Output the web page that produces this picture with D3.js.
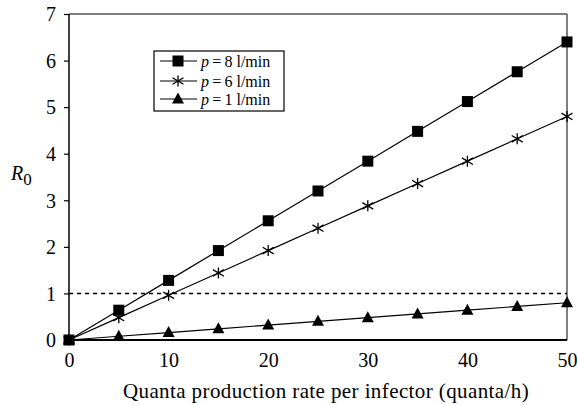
<!DOCTYPE html>
<html><head><meta charset="utf-8">
<script src="https://cdn.jsdelivr.net/npm/d3@7"></script>
<style>body{margin:0;background:#fff}svg{display:block}text{font-family:"Liberation Serif","Times New Roman",serif;fill:#000}</style>
</head><body>
<svg id="c" width="578" height="405"></svg>
<script>
const xValues = [0,5,10,15,20,25,30,35,40,45,50];
const p8 = [0,0.64,1.28,1.92,2.56,3.2,3.84,4.48,5.12,5.76,6.4];
const p6 = [0,0.48,0.96,1.44,1.92,2.4,2.88,3.36,3.84,4.32,4.8];
const p1 = [0,0.08,0.16,0.24,0.32,0.40,0.48,0.56,0.64,0.72,0.80];
const seriesNames = ["\u2009=\u20098 l/min","\u2009=\u20096 l/min","\u2009=\u20091 l/min"];
const xTicks = [0,10,20,30,40,50];
const yTicks = [0,1,2,3,4,5,6,7];
const threshold = 1;

const svg = d3.select("#c");
const L=69,R=567,T=14,B=340;
const x = d3.scaleLinear().domain([0,50]).range([L,R]);
const y = d3.scaleLinear().domain([0,7]).range([B,T]);

// frame
svg.append("line").attr("x1",L).attr("x2",R).attr("y1",T).attr("y2",T).attr("stroke","#000").attr("stroke-width",1.2);
svg.append("line").attr("x1",R).attr("x2",R).attr("y1",T).attr("y2",B).attr("stroke","#555").attr("stroke-width",1.5);

// y axis
const ya = svg.append("g").attr("transform",`translate(${L},0)`)
  .call(d3.axisLeft(y).tickValues(yTicks).tickSize(5).tickPadding(8).tickFormat(d3.format("d")));
ya.select(".domain").attr("stroke","#000").attr("stroke-width",1.5).attr("d",`M-0,${T}V${B}`);
ya.selectAll(".tick line").attr("stroke","#000").attr("stroke-width",1.2);
ya.selectAll(".tick text").style("font-size","20px").attr("dy","0.34em");

// x axis
const xa = svg.append("g").attr("transform",`translate(0,${B})`)
  .call(d3.axisBottom(x).tickValues(xTicks).tickSize(0).tickPadding(13).tickFormat(d3.format("d")));
xa.select(".domain").attr("stroke","#000").attr("stroke-width",2.2).attr("d",`M${L},0H${R}`);
xa.selectAll(".tick text").style("font-size","20px");

// threshold
svg.append("line").attr("x1",L).attr("x2",R).attr("y1",y(threshold)).attr("y2",y(threshold))
  .attr("stroke","#000").attr("stroke-width",1.5).attr("stroke-dasharray","4,4");

const line = d3.line().x((d,i)=>x(xValues[i])).y(d=>y(d));
const series = [p8,p6,p1];
const symbols = ["square","star","triangle"];

function drawMarker(g, type, cx, cy){
  if(type==="square"){
    g.append("rect").attr("x",cx-5.5).attr("y",cy-5.5).attr("width",11).attr("height",11).attr("fill","#000");
  } else if(type==="triangle"){
    g.append("path").attr("d",`M${cx},${cy-6.5}L${cx+6},${cy+4.5}L${cx-6},${cy+4.5}Z`).attr("fill","#000");
  } else {
    const r=5.5;
    g.append("path").attr("d",`M${cx},${cy-r}V${cy+r}M${cx-r},${cy-r*0.6}L${cx+r},${cy+r*0.6}M${cx-r},${cy+r*0.6}L${cx+r},${cy-r*0.6}`)
      .attr("stroke","#000").attr("stroke-width",1.3).attr("fill","none");
  }
}

series.forEach((s,k)=>{
  svg.append("path").datum(s).attr("d",line).attr("fill","none").attr("stroke","#000").attr("stroke-width",1.2);
});
series.forEach((s,k)=>{
  const g = svg.append("g");
  s.forEach((v,i)=>drawMarker(g,symbols[k],x(xValues[i]),y(v)));
});

// legend
const lg = svg.append("g");
lg.append("rect").attr("x",154).attr("y",51).attr("width",130).attr("height",60).attr("fill","#fff").attr("stroke","#000").attr("stroke-width",1.2);
const rows=[61,81,99];
seriesNames.forEach((n,k)=>{
  lg.append("line").attr("x1",160).attr("x2",197).attr("y1",rows[k]).attr("y2",rows[k]).attr("stroke","#000").attr("stroke-width",1.2);
  drawMarker(lg,symbols[k],178,rows[k]);
  const t = lg.append("text").attr("x",201).attr("y",rows[k]).attr("dy","0.35em").style("font-size","16px");
  t.append("tspan").attr("font-style","italic").text("p");
  t.append("tspan").text(n);
});

// axis titles
svg.append("text").attr("x",326).attr("y",398).attr("text-anchor","middle").style("font-size","21px").style("letter-spacing","0.4px").text("Quanta production rate per infector (quanta/h)");
const rt = svg.append("text").attr("x",11).attr("y",180).style("font-size","20px");
rt.append("tspan").attr("font-style","italic").text("R");
rt.append("tspan").attr("dy",5).style("font-size","17px").text("0");
</script>
</body></html>
